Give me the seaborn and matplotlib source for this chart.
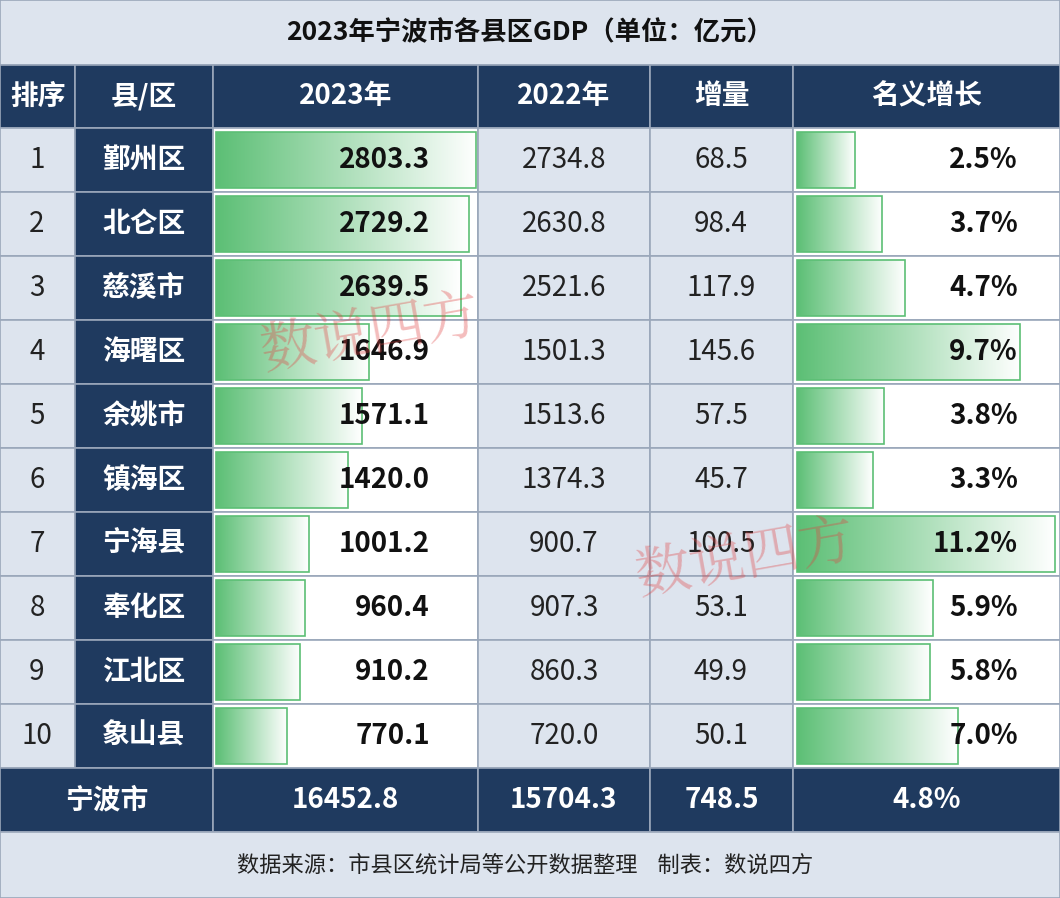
import numpy as np
import matplotlib
matplotlib.use("Agg")
import matplotlib.pyplot as plt
import seaborn as sns
from matplotlib.patches import Rectangle

sns.set_theme(style="white")
plt.rcParams['font.family'] = ['Noto Sans CJK SC', 'DejaVu Sans']

title = "2023年宁波市各县区GDP（单位：亿元）"
headers = ["排序", "县/区", "2023年", "2022年", "增量", "名义增长"]
ranks = [1, 2, 3, 4, 5, 6, 7, 8, 9, 10]
districts = ["鄞州区", "北仑区", "慈溪市", "海曙区", "余姚市", "镇海区", "宁海县", "奉化区", "江北区", "象山县"]
gdp_2023 = [2803.3, 2729.2, 2639.5, 1646.9, 1571.1, 1420.0, 1001.2, 960.4, 910.2, 770.1]
gdp_2022 = [2734.8, 2630.8, 2521.6, 1501.3, 1513.6, 1374.3, 900.7, 907.3, 860.3, 720.0]
increase = [68.5, 98.4, 117.9, 145.6, 57.5, 45.7, 100.5, 53.1, 49.9, 50.1]
growth = [2.5, 3.7, 4.7, 9.7, 3.8, 3.3, 11.2, 5.9, 5.8, 7.0]
total = ["宁波市", "16452.8", "15704.3", "748.5", "4.8%"]
footer = "数据来源：市县区统计局等公开数据整理    制表：数说四方"

NAVY = "#1f3a5f"
LIGHT = "#dde4ee"
LINE = "#9aa7ba"
GREEN = "#5cbf75"
FS = 20

W, H = 1060, 898
fig = plt.figure(figsize=(W / 100, H / 100), dpi=100)
ax = fig.add_axes([0, 0, 1, 1])
ax.set_xlim(0, W)
ax.set_ylim(H, 0)
ax.axis("off")

cols = [0, 75, 213, 478, 650, 793, W]
top_h, head_h, row_h = 65, 63, 64
y0 = top_h + head_h

def cell(x0, x1, y, h, fc):
    ax.add_patch(Rectangle((x0, y), x1 - x0, h, fc=fc, ec=LINE, lw=1.2))

# title
cell(0, W, 0, top_h, LIGHT)
ax.text(W / 2, top_h / 2, title, ha="center", va="center", fontsize=19, fontweight="bold", color="#111")

# header
for i, h in enumerate(headers):
    cell(cols[i], cols[i + 1], top_h, head_h, NAVY)
    ax.text((cols[i] + cols[i + 1]) / 2, top_h + head_h / 2, h, ha="center", va="center",
            fontsize=FS, fontweight="bold", color="white")

# gradient image
grad = np.linspace(0, 1, 256)[None, :]
cmap = matplotlib.colors.LinearSegmentedColormap.from_list("g", [GREEN, "#ffffff"])

def gbar(x, y, w, h):
    im = ax.imshow(grad, cmap=cmap, extent=(x, x + w, y + h, y), aspect="auto", zorder=2)
    r = Rectangle((x, y), w, h, fc="none", ec=GREEN, lw=1.2, zorder=3)
    ax.add_patch(r)
    im.set_clip_path(r)

for i in range(len(ranks)):
    y = y0 + i * row_h
    cell(cols[0], cols[1], y, row_h, LIGHT)
    cell(cols[1], cols[2], y, row_h, NAVY)
    cell(cols[2], cols[3], y, row_h, "white")
    cell(cols[3], cols[4], y, row_h, LIGHT)
    cell(cols[4], cols[5], y, row_h, LIGHT)
    cell(cols[5], cols[6], y, row_h, "white")
    cy = y + row_h / 2
    gbar(cols[2] + 3, y + 4, gdp_2023[i] * 0.0928, row_h - 8)
    gbar(cols[5] + 4, y + 4, growth[i] * 23.0, row_h - 8)
    ax.text(37, cy, str(ranks[i]), ha="center", va="center", fontsize=FS, color="#222")
    ax.text(144, cy, districts[i], ha="center", va="center", fontsize=FS, fontweight="bold", color="white")
    ax.text(430, cy, f"{gdp_2023[i]:.1f}", ha="right", va="center", fontsize=FS, fontweight="bold", color="#111", zorder=4)
    ax.text(564, cy, f"{gdp_2022[i]:.1f}", ha="center", va="center", fontsize=FS, color="#222")
    ax.text(721, cy, f"{increase[i]:.1f}", ha="center", va="center", fontsize=FS, color="#222")
    ax.text(1018, cy, f"{growth[i]:.1f}%", ha="right", va="center", fontsize=FS, fontweight="bold", color="#111", zorder=4)

# total row
yt = y0 + len(ranks) * row_h
tcols = [(0, 213), (213, 478), (478, 650), (650, 793), (793, W)]
for (a, b), t in zip(tcols, total):
    cell(a, b, yt, row_h, NAVY)
    ax.text((a + b) / 2, yt + row_h / 2, t, ha="center", va="center", fontsize=FS, fontweight="bold", color="white")

# footer
yf = yt + row_h
cell(0, W, yf, H - yf, LIGHT)
ax.text(W / 2 - 5, (yf + H) / 2, footer, ha="center", va="center", fontsize=16, color="#222")

# watermarks
for x, y in [(370, 335), (745, 560)]:
    ax.text(x, y, "数说四方", ha="center", va="center", fontsize=40, color="#e04040",
            alpha=0.35, rotation=10, zorder=5, family=["Noto Serif CJK SC", "Noto Sans CJK SC"])

fig.savefig("out.png", dpi=100)
